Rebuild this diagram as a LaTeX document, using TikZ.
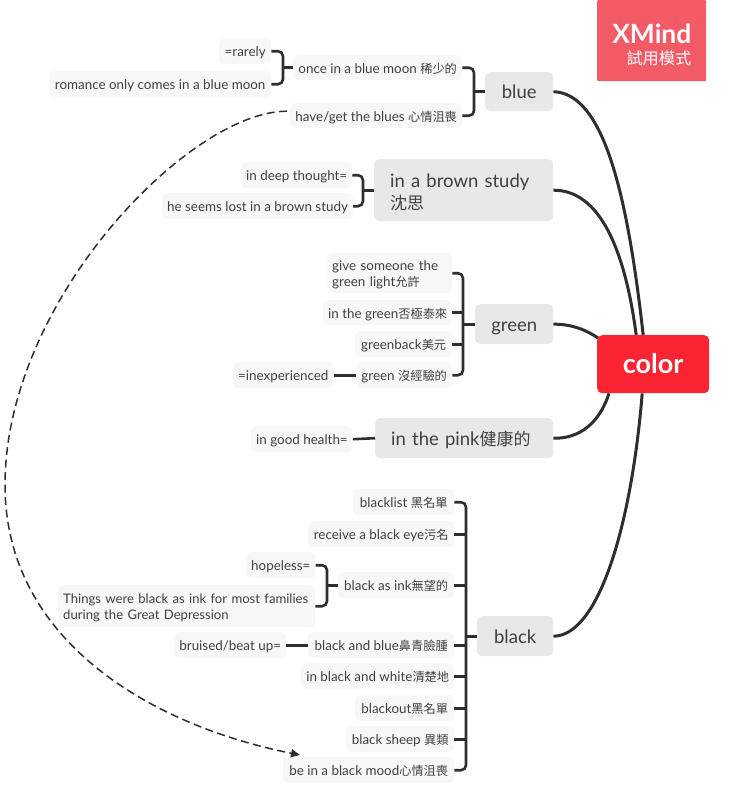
\documentclass[tikz,border=0pt]{standalone}
\usepackage{fontspec}
\setmainfont{Lato}
\newfontfamily\cj{Noto Sans CJK TC}
\newcommand{\zh}[1]{{\fontsize{12.2}{16}\cj\selectfont #1}}
\newcommand{\zhbig}[1]{{\fontsize{17}{22}\cj\selectfont #1}}
\usetikzlibrary{arrows.meta,backgrounds,calc}
\definecolor{inkline}{HTML}{2E2E2E}
\definecolor{inktext}{HTML}{404040}
\definecolor{topicfill}{HTML}{E8E8E8}
\definecolor{leaffill}{HTML}{F7F7F7}
\definecolor{rootfill}{HTML}{FB2433}
\definecolor{badgefill}{HTML}{F25B66}
\tikzset{
  leafbase/.style={fill=leaffill,rounded corners=5pt,inner xsep=5pt,inner ysep=0pt,
    text=inktext,font=\fontsize{13.4}{16}\selectfont},
  leaf/.style={leafbase,text height=12.5pt,text depth=1pt},
  topicbase/.style={fill=topicfill,rounded corners=5pt,inner xsep=5pt,inner ysep=0pt,
    text=inktext,font=\fontsize{18.5}{22}\selectfont},
  topic/.style={topicbase,text height=16pt,text depth=2pt},
  root/.style={fill=rootfill,rounded corners=5pt,inner sep=0pt,text=white,
    text height=20pt,text depth=1pt,font=\fontsize{27}{28}\bfseries\selectfont},
  badge/.style={fill=badgefill,rounded corners=1pt,inner sep=0pt},
  badgetext/.style={text=white,inner sep=0pt,anchor=east},
  branch/.style={draw=inkline,line width=3pt},
  stem/.style={draw=inkline,line width=2.6pt,rounded corners=5pt},
  relation/.style={draw=inkline,line width=1.5pt,dash pattern=on 8pt off 4.5pt,
    -{Triangle[length=9pt,width=8pt]}}
}
% box placed by its left, top, right and bottom edges
\newcommand{\edgebox}[7]{%
  \pgfmathsetmacro\boxw{#5-#3}%
  \pgfmathsetmacro\boxh{#6-#4}%
  \node[#1,minimum width=\boxw pt,minimum height=\boxh pt,anchor=north west] (#2) at (#3,#4) {#7};%
}
\begin{document}
\begin{tikzpicture}[x=1pt,y=-1pt]
\useasboundingbox (0,0) rectangle (747,785);

% trial badge
\edgebox{badge}{trial}{597}{0}{706}{81}{}
\node[badgetext,font=\fontsize{26.4}{28}\bfseries\selectfont] (trialname) at (691.5,34) {XMind};
\node[badgetext,font=\fontsize{16.2}{18}\cj\selectfont] (trialmode) at (691.5,58.5) {試用模式};

% centre and main topics
\edgebox{root}{color}{597}{335}{709}{393}{color}
\edgebox{topic}{blue}{485}{72}{553}{111}{blue}
\edgebox{topicbase,inner xsep=16pt,text width=147pt,align=left}{brown}{374}{159}{553}{221}{\rule{0pt}{18pt}in a brown study\\\zhbig{沈思}}
\edgebox{topic}{green}{475}{304}{553}{344}{green}
\edgebox{topic,inner xsep=16pt,text width=146pt,align=left}{pink}{375}{418}{553}{458}{in the pink\zhbig{健康的}}
\edgebox{topic}{black}{477}{616}{553}{656}{black}

% blue
\edgebox{leaf}{once}{293}{55}{462}{80}{once in a blue moon \zh{稀少的}}
\edgebox{leaf}{blues}{290}{103}{462}{128}{have/get the blues \zh{心情沮喪}}
\edgebox{leaf}{rarely}{219}{38}{271}{64}{=rarely}
\edgebox{leaf}{romance}{49}{71}{271}{97}{romance only comes in a blue moon}

% brown
\edgebox{leaf}{deep}{241}{162}{351}{188}{in deep thought=}
\edgebox{leaf}{lost}{162}{193}{351}{219}{he seems lost in a brown study}

% green
\edgebox{leafbase,text width=115pt,align=left}{light}{327}{253}{452}{293}{\rule{0pt}{14pt}give someone the\\green light\zh{允許}}
\edgebox{leaf}{inthegreen}{323}{300}{452}{325}{in the green\zh{否極泰來}}
\edgebox{leaf}{greenback}{355}{331}{452}{357}{greenback\zh{美元}}
\edgebox{leaf}{greenraw}{356}{362}{452}{388}{green \zh{沒經驗的}}
\edgebox{leaf}{inexp}{233}{362}{333}{388}{=inexperienced}

% pink
\edgebox{leaf}{health}{251}{426}{352}{452}{in good health=}

% black
\edgebox{leaf}{blacklist}{353}{489}{454}{515}{blacklist \zh{黑名單}}
\edgebox{leaf}{blackeye}{308}{521}{454}{547}{receive a black eye\zh{污名}}
\edgebox{leaf}{asink}{338}{572}{454}{598}{black as ink\zh{無望的}}
\edgebox{leaf}{hopeless}{246}{552}{315}{578}{hopeless=}
\edgebox{leafbase,font=\fontsize{13.1}{16}\selectfont,text width=247pt,align=left}{things}{58}{585}{315}{627}{\rule{0pt}{12pt}Things were black as ink for most families\\during the Great Depression}
\edgebox{leaf}{andblue}{308}{632}{454}{658}{black and blue\zh{鼻青臉腫}}
\edgebox{leaf}{bruised}{174}{632}{286}{658}{bruised/beat up=}
\edgebox{leaf}{andwhite}{301}{663}{454}{689}{in black and white\zh{清楚地}}
\edgebox{leaf}{blackout}{355}{695}{454}{721}{blackout\zh{黑名單}}
\edgebox{leaf}{sheep}{346}{726}{454}{752}{black sheep \zh{異類}}
\edgebox{leaf}{mood}{283}{757}{454}{783}{be in a black mood\zh{心情沮喪}}

% spine positions of the brackets
\coordinate (moonspine) at ($(once.west)+(-10,0)$);
\coordinate (bluespine) at ($(blue.west)+(-11,0)$);
\coordinate (brownspine) at ($(brown.west)+(-11,0)$);
\coordinate (greenspine) at ($(green.west)+(-12,0)$);
\coordinate (inkspine) at ($(asink.west)+(-11,0)$);
\coordinate (blackspine) at ($(black.west)+(-11,0)$);

\begin{scope}[on background layer]
  % branches from the centre
  \draw[branch] (blue.east) .. controls (605,93) and (628,200) .. ([xshift=-10pt]color.north);
  \draw[branch] (brown.east) .. controls (600,190) and (625,250) .. ([xshift=-17pt]color.north);
  \draw[branch] (green.east) .. controls (570,324) and (585,329) .. ([xshift=1pt,yshift=-3pt]color.north west);
  \draw[branch] (pink.east) .. controls (580,439) and (600,422) .. ([xshift=12pt]color.south west);
  \draw[branch] (black.east) .. controls (600,636) and (632,520) .. ([xshift=-11pt]color.south);
\end{scope}

% brackets
\draw[stem] (rarely.east) -| (moonspine) |- (romance.east);
\draw[stem] (moonspine) -- (once.west);
\draw[stem] (once.east) -| (bluespine) |- (blues.east);
\draw[stem] (bluespine) -- (blue.west);
\draw[stem] (deep.east) -| (brownspine) |- (lost.east);
\draw[stem] (brownspine) -- (brown.west);
\draw[stem] (light.east) -| (greenspine) |- (greenraw.east);
\draw[stem] (inthegreen.east) -- (inthegreen.east -| greenspine);
\draw[stem] (greenback.east) -- (greenback.east -| greenspine);
\draw[stem] (greenspine) -- (green.west);
\draw[stem] (inexp.east) -- (greenraw.west);
\draw[stem] (health.east) -- (pink.west);
\draw[stem] (blacklist.east) -| (blackspine) |- (mood.east);
\draw[stem] (blackspine) -- (black.west);
\draw[stem] (blackeye.east) -- (blackeye.east -| blackspine);
\draw[stem] (asink.east) -- (asink.east -| blackspine);
\draw[stem] (andblue.east) -- (andblue.east -| blackspine);
\draw[stem] (andwhite.east) -- (andwhite.east -| blackspine);
\draw[stem] (blackout.east) -- (blackout.east -| blackspine);
\draw[stem] (sheep.east) -- (sheep.east -| blackspine);
\draw[stem] (hopeless.east) -| (inkspine) |- (things.east);
\draw[stem] (inkspine) -- (asink.west);
\draw[stem] (bruised.east) -- (andblue.west);

% dashed relation between the two low-mood phrases
\draw[relation] ([xshift=-3pt,yshift=4.5pt]blues.west)
  .. controls (190,111) and (5,300) .. (5,485)
  .. controls (5,640) and (150,725) .. ([xshift=17pt,yshift=2pt]mood.north west);
\end{tikzpicture}
\end{document}
